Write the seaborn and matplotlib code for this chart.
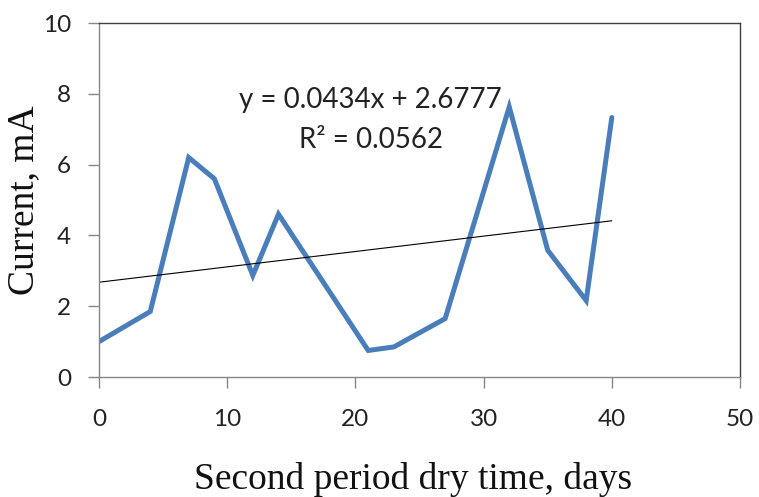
import matplotlib
matplotlib.use("Agg")
import matplotlib.pyplot as plt
import seaborn as sns
import numpy as np
import pandas as pd

days = [0, 4, 7, 9, 12, 14, 21, 23, 27, 32, 35, 38, 40]
current = [1.0, 1.85, 6.2, 5.6, 2.87, 4.6, 0.75, 0.85, 1.65, 7.63, 3.58, 2.16, 7.33]
slope = 0.0434
intercept = 2.6777
eq_text = "y = 0.0434x + 2.6777"
r2_text = "R\u00b2 = 0.0562"

sns.set_style("white")
plt.rcParams['font.family'] = ['Lato', 'DejaVu Sans']

df = pd.DataFrame({"days": days, "current": current})
trend_x = np.array([min(days), max(days)])
trend = pd.DataFrame({"days": trend_x, "fit": slope * trend_x + intercept})

fig = plt.figure(figsize=(7.59, 4.97), dpi=100)
ax = fig.add_axes([0.1304, 0.2414, 0.8446, 0.7123])

sns.lineplot(data=df, x="days", y="current", sort=False, color="#4a7ebb",
             linewidth=3.6, ax=ax, solid_joinstyle="miter")
sns.lineplot(data=trend, x="days", y="fit", color="black", linewidth=0.8, ax=ax)

ax.set_xlim(0, 50)
ax.set_ylim(0, 10)
ax.set_xticks([0, 10, 20, 30, 40, 50])
ax.set_yticks([0, 2, 4, 6, 8, 10])

for s in ["left", "bottom"]:
    ax.spines[s].set_color("#868686")
    ax.spines[s].set_linewidth(1.0)
for s in ["top", "right"]:
    ax.spines[s].set_color("#404040")
    ax.spines[s].set_linewidth(1.0)
    ax.spines[s].set_visible(True)

ax.tick_params(axis="both", which="major", direction="out", length=8, width=1,
               color="#868686", labelsize=17.5, labelcolor="#222222",
               bottom=True, left=True)
ax.tick_params(axis="x", pad=15)
ax.tick_params(axis="y", pad=12)

ax.set_xlabel("Second period dry time, days", family=["Liberation Serif"],
              fontsize=27, color="#111111")
ax.set_ylabel("Current, mA", family=["Liberation Serif"], fontsize=27,
              color="#111111")
ax.xaxis.set_label_coords(0.49, -0.24)
ax.yaxis.set_label_coords(-0.09, 0.5)

ax.text(21.2, 7.82, eq_text, ha="center", va="center", fontsize=20, color="#222222")
ax.text(21.2, 6.69, r2_text, ha="center", va="center", fontsize=20, color="#222222")

fig.savefig("out.png", dpi=100)
